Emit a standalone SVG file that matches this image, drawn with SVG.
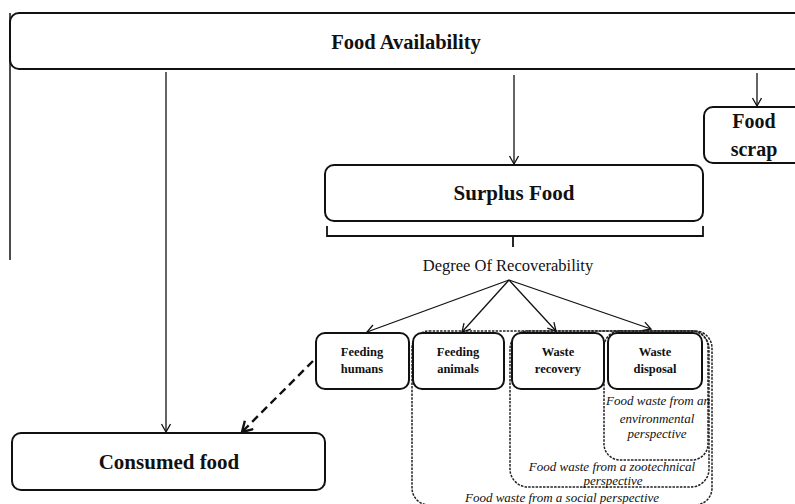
<svg xmlns="http://www.w3.org/2000/svg" width="795" height="504" viewBox="0 0 795 504">
<defs>
<marker id="ah" markerUnits="userSpaceOnUse" markerWidth="12" markerHeight="12" refX="9" refY="5" orient="auto">
<path d="M1,0.5 L9,5 L1,9.5" fill="none" stroke="#111" stroke-width="1.3"/>
</marker>
<marker id="ahd" markerUnits="userSpaceOnUse" markerWidth="16" markerHeight="16" refX="11" refY="7" orient="auto">
<path d="M1,1 L11,7 L1,13" fill="none" stroke="#111" stroke-width="2.4"/>
</marker>
<style>
.box{fill:#fff;stroke:#111;stroke-width:2}
.cont{fill:none;stroke:#222;stroke-width:1.5;stroke-dasharray:2.5 1.2}
.lbl{font-family:"Liberation Serif","Times New Roman",serif;font-weight:bold;fill:#111;text-anchor:middle}
.it{font-family:"Liberation Serif","Times New Roman",serif;font-style:italic;fill:#111;text-anchor:middle;font-size:13px}
.ln{fill:none;stroke:#111;stroke-width:1.3}
</style>
</defs>
<rect width="795" height="504" fill="#fff"/>

<g id="containers">
<rect class="cont" x="412" y="331" width="300" height="174" rx="17"/>
<rect class="cont" x="510" y="331" width="199" height="156" rx="18"/>
<rect class="cont" x="604" y="331" width="104" height="129" rx="16"/>
</g>

<g id="food-availability">
<rect class="box" x="10" y="13" width="800" height="56" rx="9"/>
<line x1="10" y1="13" x2="10" y2="260" stroke="#111" stroke-width="1.5"/>
<text class="lbl" x="406" y="49" font-size="20.5">Food Availability</text>
</g>

<g id="food-scrap">
<rect class="box" x="704" y="107" width="110" height="56" rx="9"/>
<text class="lbl" x="754" y="128" font-size="20">Food</text>
<text class="lbl" x="754" y="156" font-size="20">scrap</text>
</g>

<g id="surplus-food">
<rect class="box" x="325" y="165" width="378" height="56" rx="9"/>
<text class="lbl" x="514" y="200" font-size="21">Surplus Food</text>
</g>

<g id="degree">
<path d="M327,226 V236 H703 V226 M513,236 V247" fill="none" stroke="#111" stroke-width="1.8"/>
<text x="508" y="271" font-family="'Liberation Serif','Times New Roman',serif" font-size="16.5" text-anchor="middle" fill="#111">Degree Of Recoverability</text>
</g>

<g id="feeding-humans">
<rect class="box" x="316" y="333" width="93" height="56" rx="9"/>
<text class="lbl" x="362" y="356" font-size="12.5">Feeding</text>
<text class="lbl" x="362" y="373" font-size="12.5">humans</text>
</g>

<g id="feeding-animals">
<rect class="box" x="413" y="333" width="91" height="56" rx="9"/>
<text class="lbl" x="458" y="356" font-size="12.5">Feeding</text>
<text class="lbl" x="458" y="373" font-size="12.5">animals</text>
</g>

<g id="waste-recovery">
<rect class="box" x="512" y="333" width="92" height="56" rx="9"/>
<text class="lbl" x="558" y="356" font-size="12.5">Waste</text>
<text class="lbl" x="558" y="373" font-size="12.5">recovery</text>
</g>

<g id="waste-disposal">
<rect class="box" x="608" y="333" width="94" height="56" rx="9"/>
<text class="lbl" x="655" y="356" font-size="12.5">Waste</text>
<text class="lbl" x="655" y="373" font-size="12.5">disposal</text>
</g>

<g id="consumed-food">
<rect class="box" x="12" y="433" width="313" height="57" rx="9"/>
<text class="lbl" x="169" y="469" font-size="21">Consumed food</text>
</g>

<g id="container-labels">
<text class="it" x="658" y="405">Food waste from an</text>
<text class="it" x="657" y="423">environmental</text>
<text class="it" x="657" y="438">perspective</text>
<text class="it" x="612" y="471">Food waste from a zootechnical</text>
<text class="it" x="613" y="485">perspective</text>
<text class="it" x="562" y="502">Food waste from a social perspective</text>
</g>

<g id="connectors">
<line class="ln" x1="166" y1="72" x2="166" y2="432" marker-end="url(#ah)"/>
<line class="ln" x1="514" y1="75" x2="514" y2="164" marker-end="url(#ah)"/>
<line class="ln" x1="757" y1="73" x2="757" y2="106" marker-end="url(#ah)"/>
<line class="ln" x1="509" y1="280" x2="367" y2="332" marker-end="url(#ah)"/>
<line class="ln" x1="509" y1="280" x2="462" y2="332" marker-end="url(#ah)"/>
<line class="ln" x1="509" y1="280" x2="556" y2="331" marker-end="url(#ah)"/>
<line class="ln" x1="509" y1="280" x2="651" y2="329" marker-end="url(#ah)"/>
<line x1="313" y1="361" x2="242" y2="432" stroke="#111" stroke-width="2.4" stroke-dasharray="8 5" marker-end="url(#ahd)"/>
</g>
</svg>
